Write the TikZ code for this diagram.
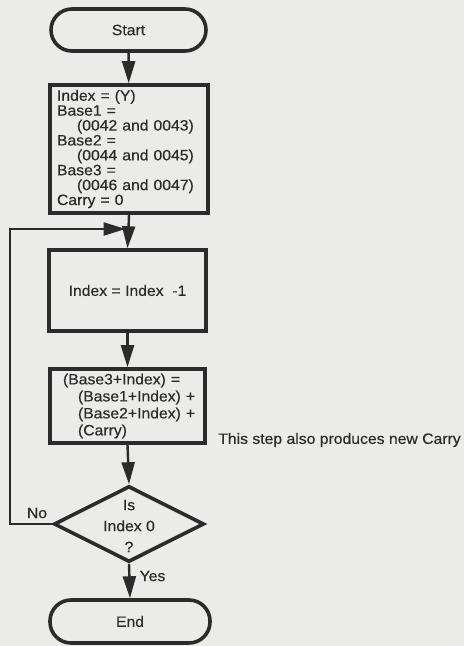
\documentclass[tikz,border=0pt]{standalone}
\usepackage{fontspec}
\setmainfont{Liberation Sans}[FakeStretch=1.05,FakeBold=0.4]
\usetikzlibrary{arrows.meta,shapes.geometric}
\definecolor{bg}{HTML}{EBEBE9}
\definecolor{ink}{HTML}{2B2B2B}
\begin{document}
\begin{tikzpicture}[x=1pt,y=-1pt,
  every node/.style={text=ink, font=\fontsize{15}{14.9}\selectfont},
  box/.style={draw=ink, line width=3.6pt, rectangle, inner sep=0pt},
  term/.style={box, rounded corners=21pt},
  conn/.style={draw=ink, line width=2.4pt},
  arr/.style={conn, -{Triangle[length=22pt,width=13pt]}},
  lbl/.style={inner sep=0pt}
]
\useasboundingbox (0,0) rectangle (464,646);
\fill[bg] (0,0) rectangle (464,646);

\node[term, minimum width=155pt, minimum height=42pt] (start) at (128.5,30) {Start};

\node[box, inner xsep=7pt, text width=144pt, minimum height=128pt, align=left] (init) at (129,149)
  {Index = (Y)\\
   Base1 =\\
   \hspace*{20pt}(0042 and 0043)\\
   Base2 =\\
   \hspace*{20pt}(0044 and 0045)\\
   Base3 =\\
   \hspace*{20pt}(0046 and 0047)\\
   Carry = 0};

\coordinate (j) at (128.5,229);
\coordinate (lx) at (10,0);

\node[box, minimum width=157pt, minimum height=81pt, align=center] (idx) at (127.5,290.5) {Index = Index\ \ -1};

\node[box, inner xsep=7pt, text width=141pt, minimum height=74pt, align=left,
      font=\fontsize{15}{17}\selectfont] (calc) at (127.5,406)
  {\hspace*{6pt}(Base3+Index) =\\
   \hspace*{21pt}(Base1+Index) +\\
   \hspace*{21pt}(Base2+Index) +\\
   \hspace*{21pt}(Carry)};

\node[diamond, draw=ink, line width=3.6pt, minimum width=150pt, minimum height=76pt, inner sep=0pt,
      label={[align=center, text=ink, font=\fontsize{15}{21}\selectfont, yshift=-2pt]center:Is\\Index 0\\?}]
      (dec) at (129,524) {};

\node[term, minimum width=160pt, minimum height=43pt] (end) at (130,621.5) {End};

\node[lbl] (note) at (339.5,440) {This step also produces new Carry};
\node[lbl] (no) at (37,513) {No};
\node[lbl] (yes) at (152.5,576) {Yes};

\draw[arr] (start) -- (init);
\draw[conn] (init.south) -- (j);
\draw[arr] (j) -- (idx.north);
\draw[arr] (idx) -- (calc);
\draw[arr] (calc.south) -- (dec.north);
\draw[arr] (dec.south) -- (end.north);
\draw[arr, shorten >=3pt] (dec.west) -- (dec.west -| lx) |- (j);
\end{tikzpicture}
\end{document}
